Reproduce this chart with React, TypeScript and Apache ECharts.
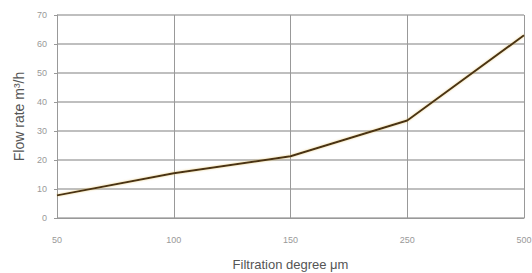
import React, { useEffect, useRef } from "react";
import * as echarts from "echarts";

const categories = ["50", "100", "150", "250", "500"];
const flowRate = [7.8, 15.4, 21.3, 33.6, 63];

export default function App() {
  const ref = useRef<HTMLDivElement>(null);
  useEffect(() => {
    const chart = echarts.init(ref.current!, null, { renderer: "svg" });
    chart.setOption({
      animation: false,
      backgroundColor: "#ffffff",
      grid: { left: 57, right: 8, top: 15, bottom: 55, outerBoundsMode: "none", containLabel: false },
      xAxis: {
        type: "category",
        data: categories,
        boundaryGap: false,
        name: "Filtration degree μm",
        nameLocation: "middle",
        nameGap: 40,
        nameTextStyle: { color: "#555", fontSize: 13, fontFamily: "Liberation Sans" },
        axisLine: { show: true, lineStyle: { color: "#999", width: 1 } },
        axisTick: { show: false },
        axisLabel: { color: "#999", fontSize: 9, margin: 17, fontFamily: "Liberation Sans" },
        splitLine: { show: true, lineStyle: { color: "#999", width: 1 } },
      },
      yAxis: {
        type: "value",
        min: 0,
        max: 70,
        interval: 10,
        name: "Flow rate m³/h",
        nameLocation: "middle",
        nameGap: 31,
        nameTextStyle: { color: "#555", fontSize: 14, fontFamily: "Liberation Sans" },
        axisLine: { show: true, lineStyle: { color: "#999", width: 1 } },
        axisTick: { show: true, length: 3, lineStyle: { color: "#999" } },
        axisLabel: { color: "#999", fontSize: 9, margin: 10, fontFamily: "Liberation Sans" },
        splitLine: { show: true, lineStyle: { color: "#aaa", width: 1.5 } },
      },
      series: [
        {
          type: "line",
          data: flowRate,
          symbol: "none",
          lineStyle: { color: "#4a3312", width: 2, shadowColor: "rgba(220,180,80,0.6)", shadowBlur: 2 },
        },
      ],
    });
    return () => chart.dispose();
  }, []);
  return <div ref={ref} style={{ width: 532, height: 273, position: "absolute", left: 0, top: 0 }} />;
}
